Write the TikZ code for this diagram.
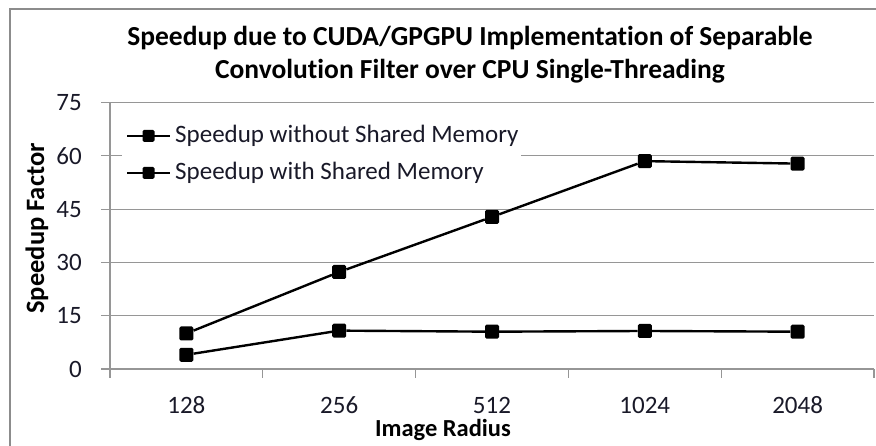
\documentclass[tikz,border=0pt]{standalone}
\usepackage{fontspec}
\setmainfont{Carlito}[Ligatures=NoCommon]
\usetikzlibrary{positioning}

\definecolor{gridgray}{RGB}{150,150,150}
\definecolor{bordergray}{RGB}{140,140,140}
\definecolor{textdark}{RGB}{25,25,40}

\begin{document}
\begin{tikzpicture}[x=1pt, y=-1pt,
	gridline/.style={draw=gridgray, line width=1.1pt},
	series/.style={draw=black, line width=2.4pt},
	marker/.style={rectangle, fill=black, minimum size=14pt, inner sep=0pt, rounded corners=1.5pt},
	legmarker/.style={marker, minimum size=12pt},
	ticklabel/.style={inner sep=0pt, text=textdark, font=\fontsize{25}{30}\selectfont},
	axistitle/.style={inner sep=0pt, font=\bfseries\fontsize{24.5}{28}\selectfont},
	charttitle/.style={inner sep=0pt, anchor=base, font=\bfseries\fontsize{27.5}{32}\selectfont},
	legtext/.style={anchor=west, inner sep=0pt, text=textdark, font=\fontsize{25}{30}\selectfont}]

	\useasboundingbox (0,0) rectangle (876,446);

	% chart frame
	\draw [bordergray, line width=1.2pt] (10,446) -- (10,9) -- (876,9);

	% title
	\node [charttitle] (title1) at (470,46) {Speedup due to CUDA/GPGPU Implementation of Separable};
	\node [charttitle] (title2) at (470,79) {Convolution Filter over CPU Single-Threading};

	% grid and value axis
	\foreach \v [evaluate=\v as \gy using 369-3.5533*\v] in {0,15,30,45,60,75} {
		\draw [gridline] (101,\gy) -- (874,\gy);
		\node [ticklabel, anchor=east] (y\v) at (82,\gy) {\v};
	}
	\draw [gridline] (110,102.5) -- (110,369);

	% category axis
	\foreach \i in {0,...,5}
		\draw [gridline] ({110+152.8*\i},369) -- ({110+152.8*\i},378);
	\foreach \lab [count=\i] in {128,256,512,1024,2048}
		\node [ticklabel] (x\lab) at ({110+152.8*(\i-0.5)},405) {\lab};

	\node [axistitle, rotate=90, font=\bfseries\fontsize{26.5}{30}\selectfont] (ytitle) at (37,228.5) {Speedup Factor};
	\node [axistitle] (xtitle) at (443,430) {Image Radius};

	% data points
	\foreach \lab/\v [count=\i] in {128/10,256/27.3,512/42.8,1024/58.5,2048/57.8}
		\node [marker] (wo\lab) at ({110+152.8*(\i-0.5)},{369-3.5533*\v}) {};
	\foreach \lab/\v [count=\i] in {128/4,256/10.8,512/10.5,1024/10.7,2048/10.5}
		\node [marker] (wi\lab) at ({110+152.8*(\i-0.5)},{369-3.5533*\v}) {};

	\draw [series] (wo128) to (wo256);
	\draw [series] (wo256) to (wo512);
	\draw [series] (wo512) to (wo1024);
	\draw [series] (wo1024) to (wo2048);

	\draw [series] (wi128) to (wi256);
	\draw [series] (wi256) to (wi512);
	\draw [series] (wi512) to (wi1024);
	\draw [series] (wi1024) to (wi2048);

	% legend
	\fill [white] (122,117) rectangle (521,193);
	\coordinate (legwoL) at (127,136);
	\coordinate (legwoR) at (170,136);
	\coordinate (legwiL) at (127,173);
	\coordinate (legwiR) at (170,173);
	\draw [series] (legwoL) -- (legwoR);
	\draw [series] (legwiL) -- (legwiR);
	\node [legmarker] (legwo) at (148.5,136) {};
	\node [legmarker] (legwi) at (148.5,173) {};
	\node [legtext, right=5pt of legwoR] (legwotext) {Speedup without Shared Memory};
	\node [legtext, right=5pt of legwiR] (legwitext) {Speedup with Shared Memory};
\end{tikzpicture}
\end{document}
